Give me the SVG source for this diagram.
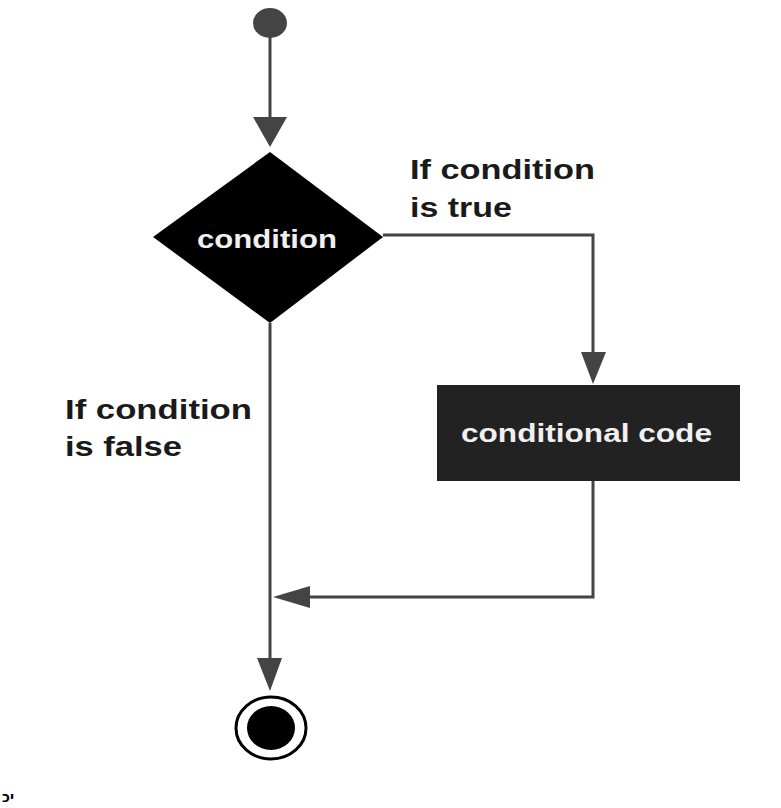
<svg xmlns="http://www.w3.org/2000/svg" width="781" height="808" viewBox="0 0 781 808">
<style>
.bg{fill:#ffffff}
.conn{fill:none;stroke:#444444;stroke-width:3}
.head{fill:#444444}
.lbl{font-family:"Liberation Sans",Arial,sans-serif;font-weight:bold;fill:#1a1a1a}
.wt{font-family:"Liberation Sans",Arial,sans-serif;font-weight:bold;fill:#f0f0f0}
</style>
<rect class="bg" x="0" y="0" width="781" height="808"/>
<g id="connectors">
  <line class="conn" x1="270" y1="36" x2="270" y2="120"/>
  <polygon class="head" points="253,117 287,117 270,147"/>
  <polyline class="conn" points="383,235 593,235 593,354"/>
  <polygon class="head" points="581,352 606,352 593,384"/>
  <polyline class="conn" points="593,481 593,597 308,597"/>
  <polygon class="head" points="310,586 310,608 273,597"/>
  <line class="conn" x1="270" y1="323" x2="270" y2="660"/>
  <polygon class="head" points="257,658 282,658 270,691"/>
</g>
<g id="start">
  <ellipse cx="270" cy="23" rx="17" ry="15" fill="#444444"/>
</g>
<g id="decision">
  <polygon points="270,152 383,237 270,323 153,237" fill="#000000"/>
  <text class="wt" x="197" y="248" font-size="25" textLength="140" lengthAdjust="spacingAndGlyphs">condition</text>
</g>
<g id="label-true">
  <text class="lbl" x="410" y="179" font-size="27" textLength="185" lengthAdjust="spacingAndGlyphs">If condition</text>
  <text class="lbl" x="410" y="217" font-size="27" textLength="102" lengthAdjust="spacingAndGlyphs">is true</text>
</g>
<g id="label-false">
  <text class="lbl" x="65" y="419" font-size="27" textLength="187" lengthAdjust="spacingAndGlyphs">If condition</text>
  <text class="lbl" x="65" y="456" font-size="27" textLength="117" lengthAdjust="spacingAndGlyphs">is false</text>
</g>
<g id="conditional-code">
  <rect x="437" y="385" width="303" height="96" fill="#222222"/>
  <text class="wt" x="461" y="442" font-size="26" textLength="251" lengthAdjust="spacingAndGlyphs">conditional code</text>
</g>
<g id="end">
  <ellipse cx="271" cy="728" rx="35" ry="31" fill="#ffffff" stroke="#000000" stroke-width="3"/>
  <ellipse cx="271" cy="728" rx="24" ry="22" fill="#000000"/>
</g>
<text x="2" y="802" font-family="'DejaVu Sans','Noto Sans',sans-serif" font-weight="bold" font-size="14" fill="#000000">יכ</text>
</svg>
